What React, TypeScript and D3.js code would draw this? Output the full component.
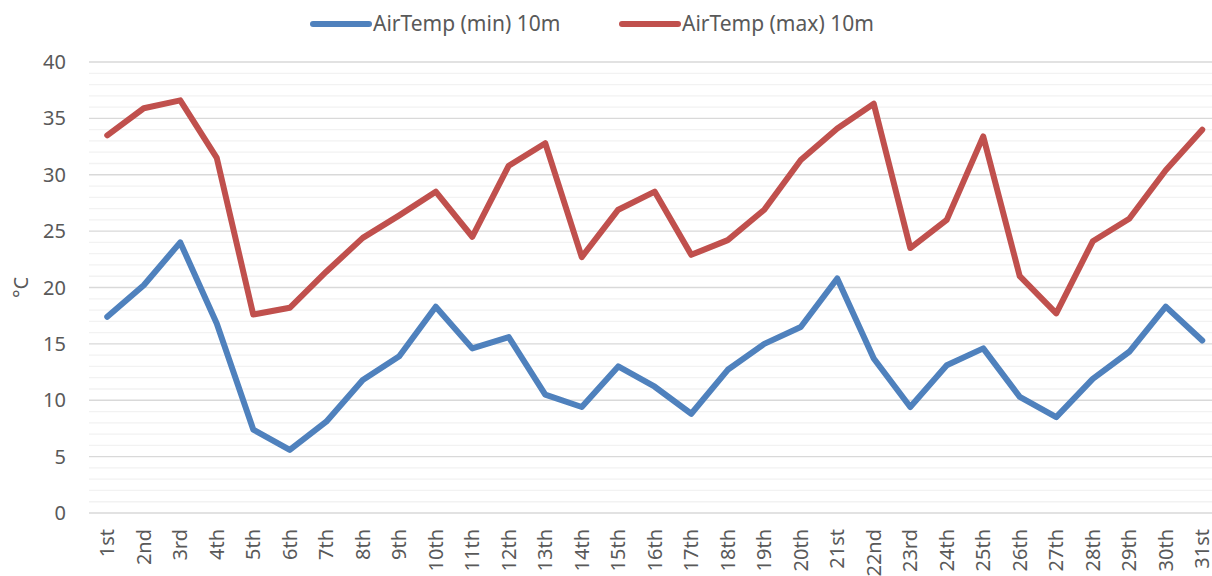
import React, { useEffect, useRef } from "react";
import * as d3 from "d3";

const days = [
  "1st", "2nd", "3rd", "4th", "5th", "6th", "7th", "8th", "9th", "10th",
  "11th", "12th", "13th", "14th", "15th", "16th", "17th", "18th", "19th", "20th",
  "21st", "22nd", "23rd", "24th", "25th", "26th", "27th", "28th", "29th", "30th", "31st",
];

const minTemp = [
  17.4, 20.2, 24.0, 16.8, 7.4, 5.6, 8.1, 11.8, 13.9, 18.3,
  14.6, 15.6, 10.5, 9.4, 13.0, 11.2, 8.8, 12.7, 15.0, 16.5,
  20.8, 13.7, 9.4, 13.1, 14.6, 10.3, 8.5, 11.9, 14.3, 18.3, 15.3,
];

const maxTemp = [
  33.5, 35.9, 36.6, 31.5, 17.6, 18.2, 21.4, 24.4, 26.4, 28.5,
  24.5, 30.8, 32.8, 22.7, 26.9, 28.5, 22.9, 24.2, 26.9, 31.3,
  34.1, 36.3, 23.5, 26.0, 33.4, 21.0, 17.7, 24.1, 26.1, 30.4, 34.0,
];

const series = [
  { name: "AirTemp (min) 10m", values: minTemp, color: "#4F81BD" },
  { name: "AirTemp (max) 10m", values: maxTemp, color: "#C0504D" },
];

const yTicks = [0, 5, 10, 15, 20, 25, 30, 35, 40];

const W = 1212;
const H = 576;
const FONT = "'Noto Sans', sans-serif";

const App = () => {
  const svgRef = useRef<SVGSVGElement | null>(null);

  useEffect(() => {
    const svg = d3.select(svgRef.current);
    svg.selectAll("*").remove();

    const left = 89;
    const bandW = 36.5;
    const top = 62;
    const bottom = 513;

    const x = d3
      .scaleBand()
      .domain(days)
      .range([left, left + bandW * days.length]);
    const y = d3.scaleLinear().domain([0, 40]).range([bottom, top]);
    const cx = (d: string) => (x(d) as number) + x.bandwidth() / 2;

    // minor gridlines
    svg
      .append("g")
      .selectAll("line")
      .data(d3.range(1, 40).filter((v) => v % 5 !== 0))
      .enter()
      .append("line")
      .attr("x1", left)
      .attr("x2", W)
      .attr("y1", (d) => y(d))
      .attr("y2", (d) => y(d))
      .attr("stroke", "#f2f2f2")
      .attr("stroke-width", 1.3);

    // major gridlines
    svg
      .append("g")
      .selectAll("line")
      .data(yTicks)
      .enter()
      .append("line")
      .attr("x1", left)
      .attr("x2", W)
      .attr("y1", (d) => y(d))
      .attr("y2", (d) => y(d))
      .attr("stroke", "#d9d9d9")
      .attr("stroke-width", 1.3);

    // y tick labels
    svg
      .append("g")
      .selectAll("text")
      .data(yTicks)
      .enter()
      .append("text")
      .attr("x", 66)
      .attr("y", (d) => y(d))
      .attr("dy", "0.35em")
      .attr("text-anchor", "end")
      .attr("font-family", FONT)
      .attr("font-size", 20)
      .attr("fill", "#595959")
      .text((d) => d);

    // y axis title
    svg
      .append("text")
      .attr("transform", `translate(21,${(top + bottom) / 2}) rotate(-90)`)
      .attr("text-anchor", "middle")
      .attr("dy", "0.35em")
      .attr("font-family", FONT)
      .attr("font-size", 20)
      .attr("fill", "#595959")
      .text("°C");

    // x tick labels (the last one runs off the right edge, as in the source)
    svg
      .append("g")
      .selectAll("text")
      .data(days)
      .enter()
      .append("text")
      .attr("transform", (d) => `translate(${cx(d)},${bottom + 16}) rotate(-90)`)
      .attr("text-anchor", "end")
      .attr("dy", "0.35em")
      .attr("font-family", FONT)
      .attr("font-size", 20)
      .attr("fill", "#595959")
      .text((d) => d);

    // lines
    const line = d3
      .line<number>()
      .x((_, i) => cx(days[i]))
      .y((d) => y(d));

    svg
      .selectAll(".series")
      .data(series)
      .enter()
      .append("path")
      .attr("class", "series")
      .attr("fill", "none")
      .attr("stroke", (d) => d.color)
      .attr("stroke-width", 6)
      .attr("stroke-linejoin", "round")
      .attr("stroke-linecap", "round")
      .attr("d", (d) => line(d.values));

    // legend
    const legendX = [313, 622];
    const leg = svg
      .append("g")
      .selectAll("g")
      .data(series)
      .enter()
      .append("g")
      .attr("transform", (_, i) => `translate(${legendX[i]},24)`);
    leg
      .append("line")
      .attr("x1", 0)
      .attr("x2", 56)
      .attr("stroke", (d) => d.color)
      .attr("stroke-width", 6)
      .attr("stroke-linecap", "round");
    leg
      .append("text")
      .attr("x", 60)
      .attr("dy", "0.35em")
      .attr("font-family", FONT)
      .attr("font-size", 21)
      .attr("fill", "#595959")
      .text((d) => d.name);
  }, []);

  return (
    <svg
      ref={svgRef}
      width={W}
      height={H}
      style={{ position: "absolute", left: 0, top: 0, background: "#fff" }}
    />
  );
};

export default App;
